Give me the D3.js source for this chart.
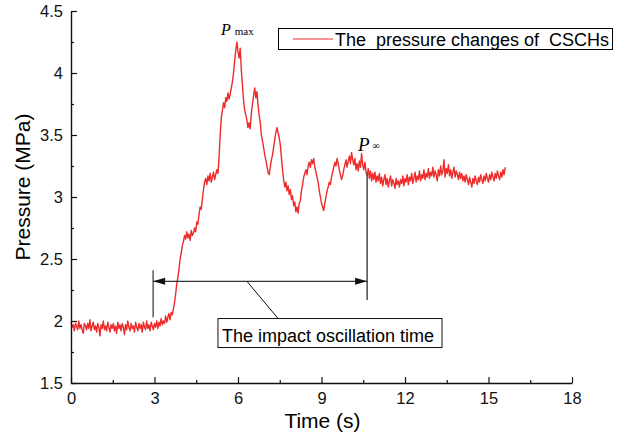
<!DOCTYPE html>
<html>
<head>
<meta charset="utf-8">
<script src="https://cdn.jsdelivr.net/npm/d3@7"></script>
<style>
  html, body { margin: 0; padding: 0; background: #fff; }
  svg { display: block; }
</style>
</head>
<body>
<svg id="chart" width="627" height="435"></svg>
<script>
// ---------------- data ----------------
const timeStep = 0.04; // s between samples, first sample at t = 0
const pressure = [
  // 0.00 - 3.00 s
  1.99,1.95,1.97,1.92,1.98,1.96,1.93,2.00,1.94,1.97,1.93,1.90,1.98,1.96,1.93,1.98,1.94,2.01,1.92,1.96,
  1.99,1.93,1.96,1.91,1.98,1.95,1.88,1.97,1.94,2.00,1.93,1.96,1.92,1.99,1.95,1.91,1.97,1.94,1.98,1.92,
  1.96,1.90,1.99,1.94,1.97,1.92,1.98,1.95,1.89,1.97,1.93,2.00,1.95,1.92,1.98,1.94,1.96,1.91,1.99,1.95,
  1.92,1.98,1.94,1.97,1.91,1.99,1.95,1.93,2.00,1.94,1.97,1.92,1.99,1.96,1.93,1.98,
  // 3.04 - 3.60
  1.95,2.00,1.94,1.99,1.96,2.02,1.97,2.00,1.98,2.04,1.99,2.03,2.06,2.01,2.07,
  // 3.64 - 4.00
  2.05,2.10,2.15,2.22,2.30,2.35,2.42,2.50,2.55,2.61,
  // 4.04 - 4.48
  2.64,2.69,2.66,2.72,2.67,2.70,2.65,2.73,2.69,2.71,2.75,2.72,
  // 4.52 - 4.80
  2.80,2.78,2.86,2.92,2.90,2.98,3.06,3.12,
  // 4.84 - 5.28
  3.15,3.10,3.17,3.13,3.19,3.12,3.16,3.20,3.14,3.18,3.22,3.19,
  // 5.32 - 5.44
  3.32,3.50,3.64,3.70,
  // 5.48 - 5.80
  3.76,3.72,3.80,3.77,3.84,3.79,3.83,3.88,3.93,
  // 5.84 - 6.00
  4.00,4.10,4.18,4.25,4.17,
  // 6.04 - 7.00
  4.12,4.20,4.02,3.90,3.78,3.70,3.66,3.62,3.56,3.60,3.55,3.68,3.75,3.82,3.88,3.80,3.85,3.74,3.66,3.60,
  3.50,3.45,3.40,3.34,3.30,
  // 7.04 - 8.00
  3.25,3.20,3.18,3.24,3.30,3.34,3.40,3.46,3.52,3.56,3.52,3.48,3.42,3.32,3.22,3.14,3.08,3.12,3.05,3.09,
  3.02,3.06,2.98,3.01,2.93,
  // 8.04 - 9.00
  2.96,2.88,2.92,2.87,2.95,2.97,3.05,3.10,3.16,3.19,3.22,3.18,3.25,3.28,3.24,3.30,3.27,3.31,3.24,3.20,
  3.16,3.12,3.05,3.00,2.95,
  // 9.04 - 10.00
  2.92,2.89,2.95,3.00,3.05,3.08,3.12,3.10,3.16,3.20,3.24,3.28,3.25,3.31,3.27,3.22,3.18,3.14,3.17,3.22,
  3.26,3.30,3.24,3.29,3.33,
  // 10.04 - 11.00
  3.27,3.36,3.30,3.26,3.31,3.22,3.27,3.21,3.29,3.24,3.35,3.26,3.22,3.28,3.20,3.17,3.23,3.15,3.21,3.13,
  3.19,3.14,3.20,3.12,3.17,
  // 11.04 - 15.60
  3.13,3.19,3.11,3.16,3.09,3.14,3.18,3.10,3.15,3.08,3.13,3.17,3.09,3.14,3.11,3.07,3.15,3.10,3.13,3.08,
  3.14,3.11,3.17,3.09,3.15,3.12,3.18,3.10,3.16,3.13,3.19,3.11,3.15,3.20,3.12,3.17,3.14,3.21,3.13,3.18,
  3.15,3.22,3.14,3.19,3.16,3.23,3.15,3.20,3.17,3.24,3.16,3.21,3.18,3.13,3.22,3.17,3.25,3.18,3.21,3.30,
  3.16,3.23,3.19,3.26,3.17,3.22,3.15,3.20,3.24,3.16,3.21,3.18,3.14,3.20,3.15,3.19,3.13,3.17,3.12,3.18,
  3.14,3.10,3.16,3.12,3.08,3.15,3.11,3.17,3.13,3.10,3.16,3.12,3.18,3.14,3.11,3.17,3.13,3.19,3.15,3.12,
  3.18,3.14,3.20,3.16,3.13,3.19,3.15,3.21,3.17,3.14,3.20,3.16,3.22,3.18,3.24
];
const times = pressure.map((_, i) => +(i * timeStep).toFixed(2));

const xMajorTicks = [0, 3, 6, 9, 12, 15, 18];
const xMinorTicks = [1.5, 4.5, 7.5, 10.5, 13.5, 16.5];
const yMajorTicks = [1.5, 2, 2.5, 3, 3.5, 4, 4.5];
const yMinorTicks = [1.75, 2.25, 2.75, 3.25, 3.75, 4.25];

const seriesName = "The  pressure changes of  CSCHs";
const xTitle = "Time (s)";
const yTitle = "Pressure (MPa)";
const annotationText = "The impact oscillation time";
// annotation geometry in data units
const oscStart = 2.95, oscEnd = 10.64, oscLevel = 2.32;
const pMaxLabel = { t: 5.39, p: 4.306 };
const pInfLabel = { t: 10.31, p: 3.37 };

// ---------------- chart ----------------
const SANS = "'Liberation Sans', Arial, sans-serif";
const SERIF = "'Liberation Serif', 'Times New Roman', serif";
const svg = d3.select("#chart");
const x = d3.scaleLinear().domain([0, 18]).range([71, 572]);
const y = d3.scaleLinear().domain([1.5, 4.5]).range([383, 11]);

// data line
const line = d3.line()
  .x(i => x(times[i]))
  .y(i => y(pressure[i]));
svg.append("path")
  .attr("d", line(d3.range(pressure.length)))
  .attr("fill", "none")
  .attr("stroke", "#ee2a2a")
  .attr("stroke-width", 1.4)
  .attr("stroke-linejoin", "round");

// axes
const axisColor = "#111";
const gx = svg.append("g").attr("transform", `translate(0,${y.range()[0]})`);
gx.call(d3.axisBottom(x).tickValues(xMajorTicks).tickSize(-6).tickSizeOuter(0).tickPadding(9).tickFormat(d3.format("d")));
gx.append("g").call(d3.axisBottom(x).tickValues(xMinorTicks).tickSize(-3).tickSizeOuter(0).tickFormat(""))
  .select(".domain").remove();
const gy = svg.append("g").attr("transform", `translate(${x.range()[0]},0)`);
gy.call(d3.axisLeft(y).tickValues(yMajorTicks).tickSize(-6).tickSizeOuter(0).tickPadding(8).tickFormat(d => String(d)));
gy.append("g").call(d3.axisLeft(y).tickValues(yMinorTicks).tickSize(-3).tickSizeOuter(0).tickFormat(""))
  .select(".domain").remove();

svg.selectAll(".domain").attr("stroke", axisColor).attr("stroke-width", 1.4);
svg.selectAll(".tick line").attr("stroke", axisColor).attr("stroke-width", 1.2);
svg.selectAll(".tick text")
  .attr("font-family", SANS)
  .attr("font-size", 16.5)
  .attr("fill", "#111");

// axis titles
svg.append("text")
  .attr("x", (x.range()[0] + x.range()[1]) / 2 + 1)
  .attr("y", 428)
  .attr("text-anchor", "middle")
  .attr("font-family", SANS)
  .attr("font-size", 21)
  .text(xTitle);
svg.append("text")
  .attr("transform", `translate(30,${(y.range()[0] + y.range()[1]) / 2 - 10}) rotate(-90)`)
  .attr("text-anchor", "middle")
  .attr("font-family", SANS)
  .attr("font-size", 21)
  .text(yTitle);

// legend
const lg = svg.append("g");
lg.append("rect").attr("x", 278.5).attr("y", 28.5).attr("width", 334).attr("height", 21)
  .attr("fill", "#fff").attr("stroke", "#000").attr("stroke-width", 1);
lg.append("line").attr("x1", 293).attr("x2", 333).attr("y1", 39).attr("y2", 39)
  .attr("stroke", "#ee2a2a").attr("stroke-width", 1);
lg.append("text").attr("x", 335).attr("y", 45.5)
  .attr("font-family", SANS).attr("font-size", 18)
  .style("white-space", "pre").text(seriesName);

// P labels
const pm = svg.append("text").attr("x", x(pMaxLabel.t)).attr("y", y(pMaxLabel.p))
  .attr("font-family", SERIF);
pm.append("tspan").attr("font-style", "italic").attr("font-size", 16).text("P");
pm.append("tspan").attr("dx", 4).attr("font-size", 11).text("max");

const pi = svg.append("text").attr("x", x(pInfLabel.t)).attr("y", y(pInfLabel.p))
  .attr("font-family", SERIF);
pi.append("tspan").attr("font-style", "italic").attr("font-size", 19).text("P");
pi.append("tspan").attr("dx", 3).attr("dy", -2).attr("font-size", 10).text("∞");

// annotation: oscillation time
const defs = svg.append("defs");
["start", "end"].forEach(k => {
  defs.append("marker")
    .attr("id", "arrow-" + k)
    .attr("markerUnits", "userSpaceOnUse")
    .attr("markerWidth", 14).attr("markerHeight", 10)
    .attr("refX", k === "end" ? 12 : 0).attr("refY", 4)
    .attr("orient", "auto")
    .append("path")
    .attr("d", k === "end" ? "M0,0.5 L12,4 L0,7.5 Z" : "M12,0.5 L0,4 L12,7.5 Z")
    .attr("fill", "#111");
});
const ann = svg.append("g");
ann.append("line").attr("x1", x(oscStart)).attr("x2", x(oscStart))
  .attr("y1", y(2.41)).attr("y2", y(2.03)).attr("stroke", "#333").attr("stroke-width", 1.2);
ann.append("line").attr("x1", x(oscEnd)).attr("x2", x(oscEnd))
  .attr("y1", y(3.2)).attr("y2", y(2.17)).attr("stroke", "#555").attr("stroke-width", 1.6);
ann.append("line").attr("x1", x(oscStart)).attr("x2", x(oscEnd))
  .attr("y1", y(oscLevel)).attr("y2", y(oscLevel))
  .attr("stroke", "#333").attr("stroke-width", 1.2)
  .attr("marker-start", "url(#arrow-start)").attr("marker-end", "url(#arrow-end)");
ann.append("line").attr("x1", x(6.32)).attr("y1", y(oscLevel))
  .attr("x2", x(7.44)).attr("y2", y(2.02)).attr("stroke", "#111").attr("stroke-width", 1);
ann.append("rect").attr("x", x(5.28)).attr("y", y(2.02))
  .attr("width", x(13.33) - x(5.28)).attr("height", y(1.786) - y(2.02))
  .attr("fill", "#fff").attr("stroke", "#111").attr("stroke-width", 1);
ann.append("text").attr("x", x(5.28) + 4).attr("y", y(1.83))
  .attr("font-family", SANS).attr("font-size", 18).text(annotationText);
</script>
</body>
</html>
